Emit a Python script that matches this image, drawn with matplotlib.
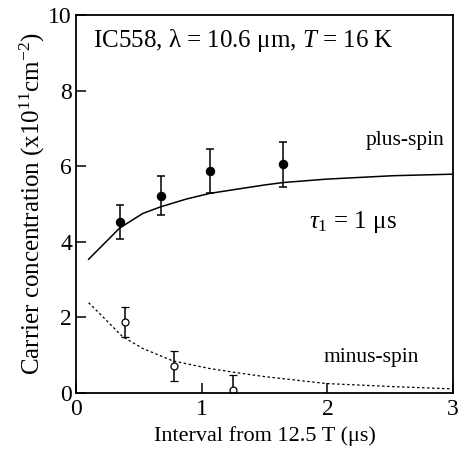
import matplotlib.pyplot as plt

plt.rcParams['font.family'] = ['Liberation Serif', 'DejaVu Serif']
plt.rcParams['mathtext.fontset'] = 'custom'
plt.rcParams['mathtext.rm'] = 'Liberation Serif'
plt.rcParams['mathtext.it'] = 'Liberation Serif:italic'

# measured carrier concentrations (x10^11 cm^-2)
plus_t = [0.35, 0.674, 1.066, 1.647]
plus_n = [4.52, 5.22, 5.87, 6.05]
plus_err = [0.45, 0.52, 0.58, 0.60]

minus_t = [0.39, 0.777, 1.25]
minus_n = [1.87, 0.71, 0.07]
minus_err = [0.40, 0.40, 0.40]

# model curves for tau_1 = 1 us
plus_fit_t = [0.10, 0.265, 0.345, 0.53, 0.676, 0.875, 1.06, 1.273, 1.51, 1.65, 1.994, 2.524, 2.99]
plus_fit_n = [3.54, 4.09, 4.36, 4.75, 4.93, 5.13, 5.28, 5.39, 5.51, 5.57, 5.66, 5.75, 5.79]
minus_fit_t = [0.10, 0.212, 0.37, 0.53, 0.77, 1.06, 1.273, 1.51, 1.994, 2.52, 2.99]
minus_fit_n = [2.39, 2.02, 1.49, 1.18, 0.85, 0.65, 0.54, 0.43, 0.25, 0.17, 0.11]

fig = plt.figure(figsize=(4.61, 4.57), dpi=100)
ax = fig.add_axes([0.165, 0.140, 0.818, 0.827])

ax.plot(plus_fit_t, plus_fit_n, color='black', lw=1.1)
ax.plot(minus_fit_t, minus_fit_n, color='black', lw=0.9, linestyle=(0, (2, 2)))

ax.errorbar(plus_t, plus_n, yerr=plus_err, fmt='o', color='black', ms=5.8,
            capsize=3, elinewidth=1.1, capthick=1.1)
ax.errorbar(minus_t, minus_n, yerr=minus_err, fmt='o', color='black', mfc='white',
            ms=5, mew=0.9, capsize=3, elinewidth=1.1, capthick=1.1)

ax.set_xlim(0, 3)
ax.set_ylim(0, 10)
ax.set_xticks([0, 1, 2, 3])
ax.set_yticks([0, 2, 4, 6, 8, 10])
ax.tick_params(direction='in', length=7, width=1.1, labelsize=17,
               top=False, right=False)
ax.tick_params(axis='x', pad=4)
ax.tick_params(axis='y', pad=3)
for s in ax.spines.values():
    s.set_linewidth(1.3)

ax.set_xlabel('Interval from 12.5 T (\u03bcs)', fontsize=16, labelpad=5)
ax.set_ylabel('Carrier concentration (x10$^{11}$cm$^{-2}$)', fontsize=18, labelpad=1)

ax.text(0.045, 0.934, 'IC558, \u03bb = 10.6 \u03bcm, $T$ = 16 K', transform=ax.transAxes,
        fontsize=18, va='center', ha='left')
ax.text(2.62, 6.67, 'plus-spin', fontsize=15.5, ha='center', va='center')
ax.text(2.35, 0.95, 'minus-spin', fontsize=15.5, ha='center', va='center')
ax.text(1.85, 4.52, '$\\tau_{\\mathit{1}}$ = 1 \u03bcs', fontsize=18, ha='left', va='center')

fig.savefig('out.png', dpi=100)
